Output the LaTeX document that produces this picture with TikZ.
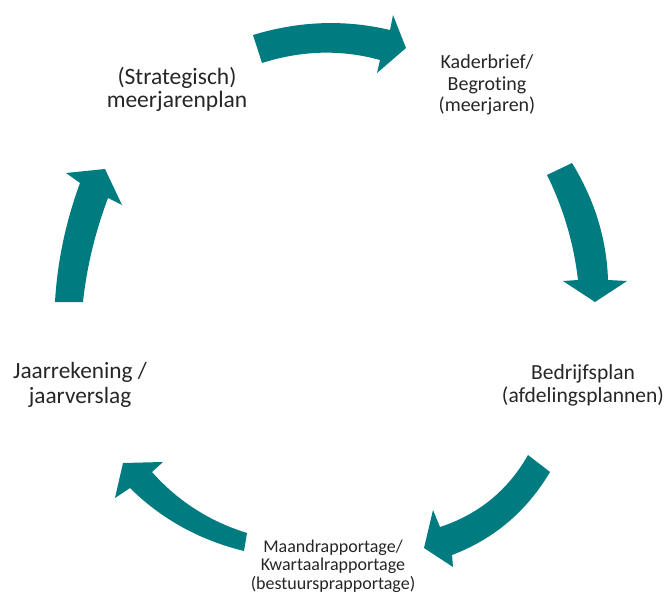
\documentclass[tikz,border=0pt]{standalone}
\usepackage{fontspec}
\setmainfont{Carlito}[Ligatures=NoCommon]
\definecolor{cyccol}{RGB}{0,123,128}
\definecolor{txtcol}{RGB}{38,38,38}
\newcommand\txtstack[1]{\vtop{\lineskiplimit=-100pt\relax\halign{\hfil##\hfil\cr#1\crcr}}}
\tikzset{
  cycarrow/.style={fill=cyccol, draw=none},
  label/.style={inner sep=0pt, anchor=base, text=txtcol},
}
\begin{document}
\begin{tikzpicture}[x=1pt,y=-1pt]
\useasboundingbox (0,0) rectangle (665,594);
% arrows
\path[cycarrow] (253,35) .. controls (299,21) and (344.7,19.3) .. (390,30) -- (393,15) -- (406,48) -- (377,73) -- (380,60) .. controls (341.3,49.3) and (302,50.3) .. (262,63) -- cycle;
\path[cycarrow] (572,163) .. controls (594.7,200) and (606.7,239) .. (608,280) -- (627,281) -- (595,302) -- (563,281) -- (578,280) .. controls (573.7,243) and (563.3,208) .. (547,175) -- cycle;
\path[cycarrow] (550,472) .. controls (526.7,511.3) and (494,539) .. (452,555) -- (453,567) -- (424,548) -- (433,510) -- (440,527) .. controls (478.7,514.3) and (508,490.3) .. (528,455) -- cycle;
\path[cycarrow] (244,551) .. controls (199.3,540) and (161.3,519) .. (130,488) -- (115,498) -- (123,463) -- (163,462) -- (152,472) .. controls (177.7,501) and (209.3,521.3) .. (247,533) -- cycle;
\path[cycarrow] (55,302) .. controls (57.3,261.7) and (65.7,222) .. (80,183) -- (66,173) -- (105,169) -- (122,205) -- (108,198) .. controls (95,232.7) and (86.7,267.3) .. (83,302) -- cycle;
% labels
\node[label, font={\fontsize{23.5}{22}\selectfont}] (strat) at (177,85) {\txtstack{(Strategisch)\cr meerjarenplan}};
\node[label, font={\fontsize{20}{21.5}\selectfont}] (kader) at (487,69) {\txtstack{Kaderbrief/\cr Begroting\cr (meerjaren)}};
\node[label, font={\fontsize{21.5}{23.5}\selectfont}] (bedrijf) at (583,379) {\txtstack{Bedrijfsplan\cr (afdelingsplannen)}};
\node[label, font={\fontsize{18}{18.7}\selectfont}] (maand) at (333,552) {\txtstack{Maandrapportage/\cr Kwartaalrapportage\cr (bestuursprapportage)}};
\node[label, font={\fontsize{23.3}{25}\selectfont}] (jaar) at (80,378) {\txtstack{Jaarrekening /\cr jaarverslag}};
\end{tikzpicture}
\end{document}
